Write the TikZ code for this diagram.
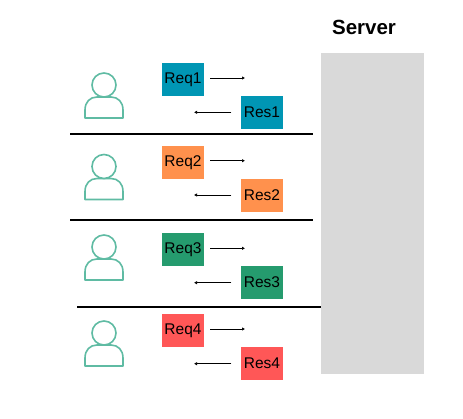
\documentclass[tikz,border=0pt]{standalone}
\usepackage{fontspec}
\setmainfont{Liberation Sans}
\usetikzlibrary{arrows.meta}
\definecolor{cblue}{HTML}{0096B4}
\definecolor{corange}{HTML}{FF914D}
\definecolor{cgreen}{HTML}{259B6E}
\definecolor{cred}{HTML}{FF5757}
\definecolor{cuser}{HTML}{5FBBA3}
\definecolor{cserver}{HTML}{D9D9D9}
\tikzset{
  msg/.style={minimum width=42pt,minimum height=33pt,inner sep=0pt,font=\fontsize{15.5}{17}\selectfont,text=black},
  flow/.style={draw=black,line width=0.9pt,-{Latex[length=3pt,width=3.5pt]}},
  sep/.style={draw=black,line width=1.8pt},
  userline/.style={draw=cuser,line width=1.6pt,fill=white,line join=round}
}
\newcommand{\userfig}[3]{%
  \draw[userline] (#1-19,#2+33) -- (#1+19,#2+33) -- (#1+19,#2+25)
    .. controls (#1+19,#2+17) and (#1+14,#2+12) .. (#1+7,#2+12)
    -- (#1-7,#2+12)
    .. controls (#1-14,#2+12) and (#1-19,#2+17) .. (#1-19,#2+25) -- cycle;
  \node[circle,userline,minimum size=24pt,inner sep=0pt] (#3) at (#1,#2) {};
}
\begin{document}
\begin{tikzpicture}[x=1pt,y=-1pt]
\useasboundingbox (0,0) rectangle (463,418);
\fill[white] (0,0) rectangle (463,418);
\node[fill=cserver,minimum width=103pt,minimum height=321pt,inner sep=0pt] (server) at (372.5,213.5) {};
\node[font=\fontsize{20.5}{22}\selectfont\bfseries] (servert) at (364,27) {Server};
\userfig{104}{85}{u1}
\userfig{104}{166.5}{u2}
\userfig{104}{247}{u3}
\userfig{104}{333}{u4}
\node[msg,fill=cblue] (req1) at (183,79.7) {Req1};
\node[msg,fill=cblue] (res1) at (262,112.5) {Res1};
\node[msg,fill=corange] (req2) at (183,162.3) {Req2};
\node[msg,fill=corange] (res2) at (262,195.2) {Res2};
\node[msg,fill=cgreen] (req3) at (183,249.8) {Req3};
\node[msg,fill=cgreen] (res3) at (262,282.5) {Res3};
\node[msg,fill=cred] (req4) at (183,330.5) {Req4};
\node[msg,fill=cred] (res4) at (262,363.5) {Res4};
\coordinate (a1) at (245,78); \coordinate (b1) at (194,112.3);
\coordinate (a2) at (245,160.7); \coordinate (b2) at (194,195);
\coordinate (a3) at (245,248.3); \coordinate (b3) at (194,282.7);
\coordinate (a4) at (245,329); \coordinate (b4) at (194,363.7);
\foreach \i in {1,2,3,4}{
  \draw[flow] ([xshift=6pt]req\i.east |- a\i) -- (a\i);
  \draw[flow] ([xshift=-9.5pt]res\i.west |- b\i) -- (b\i);
}
\coordinate (l1a) at (70,134.3); \coordinate (l1b) at (313,134.3);
\coordinate (l2a) at (70,220); \coordinate (l2b) at (313,220);
\coordinate (l3a) at (77.3,307); \coordinate (l3b) at (321,307);
\draw[sep] (l1a) -- (l1b);
\draw[sep] (l2a) -- (l2b);
\draw[sep] (l3a) -- (l3b);
\end{tikzpicture}
\end{document}
